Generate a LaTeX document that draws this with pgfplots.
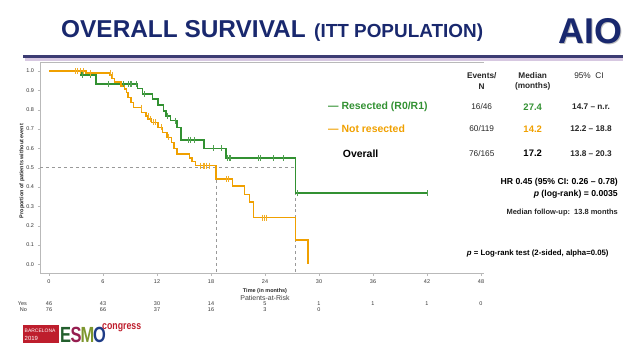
\documentclass[border=0pt]{standalone}
\usepackage{pgfplots}
\pgfplotsset{compat=1.18}
\usepackage{fontspec}
\setmainfont{Liberation Sans}
\newcommand{\fs}[1]{\fontsize{#1}{#1}\selectfont}
\definecolor{kmgreen}{RGB}{50,145,50}
\definecolor{kmorange}{RGB}{240,160,0}
\definecolor{navy}{RGB}{25,40,110}
\definecolor{rulecol}{RGB}{60,60,115}
\definecolor{shadowcol}{RGB}{215,200,225}
\definecolor{esmored}{RGB}{190,30,45}
\definecolor{esmoE}{RGB}{35,95,45}
\definecolor{esmoS}{RGB}{150,30,80}
\definecolor{esmoM}{RGB}{125,150,45}
\definecolor{esmoO}{RGB}{30,60,135}
\begin{document}
\begin{tikzpicture}[x=1bp,y=1bp]
\path[use as bounding box] (0,0) rectangle (640,360);
% title
\node[anchor=base west,inner sep=0,text=navy] at (61,323) {\fs{24.5}\bfseries OVERALL SURVIVAL};
\node[anchor=base west,inner sep=0,text=navy] at (314,323) {\fs{19}\bfseries (ITT POPULATION)};
\node[anchor=base west,inner sep=0,text=gray!50] at (559.5,315.5) {\fs{36}\bfseries AIO};
\node[anchor=base west,inner sep=0,text=navy] at (558,317) {\fs{36}\bfseries AIO};
\fill[shadowcol] (25,299.5) rectangle (623,302.5);
\fill[rulecol] (23,302.5) rectangle (623,305);
% axis
\begin{axis}[at={(40bp,86.7bp)}, anchor=south west, scale only axis,
  width=444bp, height=211.3bp,
  xmin=-1, xmax=48.33, ymin=-0.0463, ymax=1.0463,
  axis x line*=bottom, axis y line*=left,
  axis line style={draw=gray!55,-},
  xtick={0,6,...,48}, ytick={0,0.1,...,1.0},
  tick align=outside, major tick length=2.5bp,
  tick style={gray!55},
  ticklabel style={font=\fs{5.5}, text=black!80},
  /pgf/number format/assume math mode=true,
  yticklabel style={/pgf/number format/fixed,/pgf/number format/fixed zerofill,/pgf/number format/precision=1},
  clip=false]
\draw[gray!55] (rel axis cs:0,1) -- (rel axis cs:1,1);
\addplot[gray!80, dashed, line width=0.8pt] coordinates {(-1,0.5) (27.4,0.5)};
\addplot[gray!80, dashed, line width=0.8pt] coordinates {(18.55,0.5) (18.55,-0.0463)};
\addplot[gray!80, dashed, line width=0.8pt] coordinates {(27.4,0.5) (27.4,-0.0463)};
% green: resected
\addplot[kmgreen, line width=1.5pt, const plot] coordinates {
(0,1.0) (3.55,0.978) (5.2,0.933) (9.85,0.909) (10.4,0.88) (11.5,0.854) (12.1,0.823) (12.7,0.794) (13.0,0.768) (13.5,0.743) (14.2,0.708) (14.65,0.643) (17.2,0.60) (19.65,0.549) (27.4,0.368) (42,0.368)};
\addplot[kmgreen!85, only marks, mark=|, mark size=3bp, mark options={line width=0.8pt}] coordinates {
(3.7,0.978) (4.6,0.978) (6.6,0.933) (8.3,0.933) (8.8,0.933) (9.0,0.933) (9.15,0.933) (9.7,0.933) (10.6,0.88) (13.1,0.768) (14.05,0.743) (15.5,0.643) (15.7,0.643) (16.1,0.643) (18.3,0.60) (19.2,0.60) (19.85,0.549) (20.0,0.549) (20.2,0.549) (23.3,0.549) (23.45,0.549) (24.9,0.549) (26.0,0.549) (27.6,0.368) (42,0.368)};
% orange: not resected
\addplot[kmorange, line width=1.5pt, const plot] coordinates {
(0,1.0) (4.1,0.99) (6.8,0.978) (7.0,0.96) (7.3,0.943) (8.0,0.923) (8.4,0.906) (8.6,0.889) (8.8,0.863) (9.1,0.837) (9.4,0.811) (10.3,0.785) (10.8,0.768) (11.0,0.751) (11.4,0.734) (12.1,0.708) (12.6,0.683) (13.1,0.657) (13.6,0.631) (13.9,0.60) (14.2,0.571) (15.6,0.549) (15.9,0.532) (16.3,0.511) (18.55,0.442) (20.4,0.405) (21.7,0.36) (22.3,0.322) (22.7,0.242) (27.4,0.125) (28.8,0.0)};
\addplot[kmorange!85, only marks, mark=|, mark size=3bp, mark options={line width=0.8pt}] coordinates {
(2.9,1.0) (3.2,1.0) (3.5,1.0) (3.8,1.0) (4.6,0.99) (6.8,0.99) (7.05,0.978) (10.3,0.811) (11.0,0.768) (11.3,0.751) (11.6,0.734) (11.8,0.734) (12.5,0.708) (13.3,0.657) (16.8,0.511) (17.1,0.511) (17.3,0.511) (17.5,0.511) (17.8,0.511) (19.7,0.442) (19.95,0.442) (23.7,0.242) (23.95,0.242) (24.2,0.242)};
\end{axis}
% axis labels
\node[rotate=90,text=black!85] at (22,189) {\fs{5.5}\bfseries Proportion of patients without event};
\node[text=black!85] at (265,69) {\fs{5.5}\bfseries Time (in months)};
\node[text=black!75] at (265,62.3) {\fs{7}Patients-at-Risk};
\node[anchor=east,inner sep=0,text=black!80] at (27,56.7) {\fs{5.5}Yes};
\node[anchor=east,inner sep=0,text=black!80] at (27,50) {\fs{5.5}No};
\foreach \x/\v in {49/46,103/43,157/30,211/14,265/5,319/1,373/1,427/1,481/0}
  \node[text=black!80,inner sep=0] at (\x,56.7) {\fs{5.5}\v};
\foreach \x/\v in {49/76,103/66,157/37,211/16,265/3,319/0}
  \node[text=black!80,inner sep=0] at (\x,50) {\fs{5.5}\v};
% table
\node[text=black!85,inner sep=0] at (481.7,284) {\fs{8.3}\bfseries Events/};
\node[text=black!85,inner sep=0] at (481.7,273.3) {\fs{8.3}\bfseries N};
\node[text=black!85,inner sep=0] at (532.7,284) {\fs{8.3}\bfseries Median};
\node[text=black!85,inner sep=0] at (532.7,273.3) {\fs{8.3}\bfseries (months)};
\node[text=black!85,inner sep=0] at (589,284) {\fs{8.3}95\%\ \ CI};
\node[anchor=west,inner sep=0,text=kmgreen] at (328,253.3) {\fs{10.5}\bfseries — Resected (R0/R1)};
\node[anchor=west,inner sep=0,text=kmorange] at (328,231) {\fs{10.5}\bfseries — Not resected};
\node[anchor=west,inner sep=0,text=black] at (342.7,206.7) {\fs{10.5}\bfseries Overall};
\node[text=black!85] at (481.7,253.3) {\fs{8.3}16/46};
\node[text=black!85] at (481.7,231) {\fs{8.3}60/119};
\node[text=black!85] at (481.7,206.7) {\fs{8.3}76/165};
\node[text=kmgreen] at (532.7,253.3) {\fs{9.5}\bfseries 27.4};
\node[text=kmorange] at (532.7,231) {\fs{9.5}\bfseries 14.2};
\node[text=black] at (532.7,206.7) {\fs{9.5}\bfseries 17.2};
\node[text=black!85] at (591,253.3) {\fs{8.3}\bfseries 14.7 – n.r.};
\node[text=black!85] at (591,231) {\fs{8.3}\bfseries 12.2 – 18.8};
\node[text=black!85] at (591,206.7) {\fs{8.3}\bfseries 13.8 – 20.3};
\node[anchor=east,inner sep=0] at (618,177.3) {\fs{8.7}\bfseries HR 0.45 (95\% CI: 0.26 – 0.78)};
\node[anchor=east,inner sep=0] at (618,166) {\fs{8.7}\bfseries\itshape p\upshape\ (log-rank) = 0.0035};
\node[anchor=east,inner sep=0,text=black!85] at (618,147.7) {\fs{7.5}\bfseries Median follow-up:\ \ 13.8 months};
\node[anchor=west,inner sep=0] at (466.7,106.7) {\fs{7.8}\bfseries\itshape p\upshape\ = Log-rank test (2-sided,\ alpha=0.05)};
% ESMO logo
\fill[esmored] (23.3,17) rectangle (59.3,35);
\node[anchor=west,inner sep=0,text=white] at (24.5,29.5) {\fs{5}BARCELONA};
\node[anchor=west,inner sep=0,text=white] at (24.5,22) {\fs{6}2019};
\node[anchor=base west,inner sep=0,text=esmoE] at (60,17.5) {\scalebox{0.75}[1]{\fs{22}\bfseries E}};
\node[anchor=base west,inner sep=0,text=esmoS] at (70.5,17.5) {\scalebox{0.75}[1]{\fs{22}\bfseries S}};
\node[anchor=base west,inner sep=0,text=esmoM] at (80.5,17.5) {\scalebox{0.75}[1]{\fs{22}\bfseries M}};
\node[anchor=base west,inner sep=0,text=esmoO] at (93,17.5) {\scalebox{0.75}[1]{\fs{22}\bfseries O}};
\node[anchor=base west,inner sep=0,text=esmored] at (102,30.5) {\scalebox{0.8}[1]{\fs{11}\bfseries congress}};
\end{tikzpicture}
\end{document}
